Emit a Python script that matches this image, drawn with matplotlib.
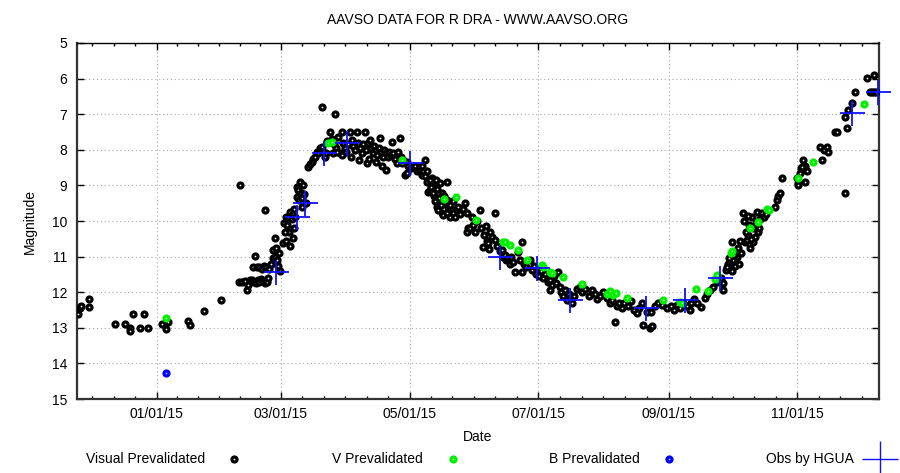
import numpy as np
import pandas as pd
import matplotlib
matplotlib.use("Agg")
import matplotlib.pyplot as plt
import matplotlib.dates as mdates
from matplotlib.lines import Line2D

plt.rcParams["font.family"] = ["Liberation Sans", "DejaVu Sans"]

# days counted from 2015-01-01, magnitudes
t0 = pd.Timestamp("2015-01-01")

vis_day = [-37.2, -36.5, -35.8, -32.3, -32.0, -20.0, -15.0, -12.8, -12.6, -11.0, -8.0, -6.0, -4.0,
           2.6, 4.3, 5.2, 15.0, 15.8, 22.6, 30.4,
           39.2, 40.5, 41.8, 42.8, 43.5, 44.3, 45.3, 46.3, 47.2, 48.0, 48.8, 49.6, 50.5, 51.3, 52.3, 53.0,
           45.8, 46.7, 47.8, 48.6, 49.8, 50.8, 52.0, 53.5, 54.5, 55.0, 55.3, 56.2, 56.0, 57.2, 57.8, 58.5,
           58.0, 56.8, 39.6, 51.4, 60.0, 61.5, 63.2, 64.8,
           60.5, 61.2, 62.0, 62.5, 63.3, 64.0, 64.5, 65.3, 65.8, 66.4, 66.4, 67.2, 67.6, 68.0, 68.5, 68.8,
           69.3, 70.0, 69.0, 65.0, 63.0, 61.0, 70.8, 72.0, 72.8, 73.6, 74.3, 75.1, 75.9, 76.6, 77.5, 78.3,
           79.0, 79.8, 80.5, 78.3, 84.6,
           81.0, 82.2, 83.0, 84.0, 85.0, 86.2, 87.0, 87.8, 88.5, 89.3, 90.0, 91.0, 91.7, 92.5, 93.2, 94.0,
           94.9, 95.5, 96.5, 97.3, 98.0, 98.8, 99.7, 99.5, 100.3, 101.2, 101.8, 102.5, 103.2, 104.0, 104.7,
           105.3, 106.0, 106.7, 107.4, 108.0, 108.8, 109.0, 109.6, 110.3, 111.0, 111.5, 112.2, 113.0, 113.9,
           114.7, 115.5, 115.8, 116.3, 117.0, 118.0, 118.7, 118.7, 119.5, 120.5, 121.8, 122.6, 123.5, 124.3,
           125.0, 83.8, 85.8, 88.0, 92.0, 96.0, 100.8, 104.3, 107.0,
           126.0, 127.3, 128.1, 128.9, 129.7, 130.5, 131.0, 131.8, 132.5, 132.9, 133.7, 134.5, 135.3, 135.5,
           136.0, 136.8, 137.6, 137.6, 138.5, 139.3, 140.0, 140.8, 141.6, 142.3, 143.1, 144.0, 145.2, 146.3,
           147.1, 147.1, 147.9, 148.7, 149.5, 150.3, 151.2, 152.0, 153.4, 154.0, 155.0, 155.5, 156.3, 157.0,
           157.4, 157.8, 158.2, 159.0, 160.6, 160.6, 161.5,
           125.8, 126.5, 127.5, 128.5, 129.5, 130.2, 131.3, 132.0, 133.0, 134.0, 134.8, 136.3, 138.0, 139.0,
           140.5,
           163.0, 163.7, 164.5, 165.3, 166.0, 166.8, 167.5, 168.3, 169.0, 170.0, 171.6, 172.3, 173.2, 173.2,
           174.5, 175.5, 177.2, 178.0,
           179.0, 180.0, 181.5, 182.5, 183.5, 184.5, 185.5, 186.7, 186.7, 187.5, 188.5, 189.5, 190.6, 191.2,
           192.0, 193.0, 194.0, 194.6, 195.5, 197.0, 198.0, 199.5, 201.0, 202.0, 203.5, 205.0, 206.5, 208.0,
           209.0, 210.5, 212.0, 213.5, 215.0, 216.0, 217.5, 218.5, 219.5, 221.0, 222.0, 223.5, 225.0, 226.5,
           227.8, 229.0, 230.2, 231.0, 232.5, 234.1, 235.0, 234.5, 236.5, 238.0,
           240.0, 242.0, 244.0, 245.5, 247.0, 248.5, 250.0, 251.5, 253.0, 253.8, 255.0, 256.5, 258.5, 260.1,
           261.0, 262.5, 264.0, 266.0, 268.0, 268.8, 269.0, 270.0, 271.0, 272.0, 272.9, 273.5, 274.5, 275.5,
           276.5, 277.5, 278.4, 279.0, 280.0, 280.8, 281.5, 282.4, 283.2, 284.0, 284.8, 285.5, 286.3, 287.1,
           288.0, 289.0, 293.4, 294.3, 295.0, 295.8, 296.6, 303.7, 304.5, 304.5, 305.3, 306.0, 306.9, 307.5,
           308.5, 306.4, 307.7, 314.8, 315.6, 316.5, 318.0, 318.8, 322.0, 323.0, 326.7, 327.5, 326.7, 328.3,
           329.8, 331.4, 337.0, 340.4, 338.5, 339.5, 340.5, 341.5,
           270.8, 271.5, 273.0, 274.0, 276.0, 277.0, 279.5, 281.0, 282.0, 283.0, 284.5, 286.0, 278.8, 280.5]

vis_mag = [12.6, 12.45, 12.4, 12.2, 12.42, 12.9, 12.9, 13.0, 13.1, 12.6, 13.0, 12.6, 13.0,
           12.9, 13.02, 12.85, 12.8, 12.92, 12.52, 12.22,
           11.7, 11.72, 11.68, 11.95, 11.8, 11.66, 11.65, 11.7, 11.75, 11.65, 11.72, 11.62, 11.68, 11.75, 11.7, 11.6,
           11.28, 10.97, 11.3, 11.28, 11.35, 11.25, 11.3, 11.35, 11.2, 11.05, 10.81, 10.49, 11.0, 11.1, 11.25, 11.4,
           10.9, 10.75, 9.0, 9.69, 10.63, 10.55, 10.7, 10.49,
           10.05, 9.9, 10.1, 9.88, 9.74, 9.95, 9.8, 9.65, 9.9, 9.32, 9.04, 9.13, 9.4, 8.9, 9.2, 9.36,
           9.0, 9.25, 9.6, 10.2, 10.3, 10.3, 9.5, 8.47, 8.4, 8.33, 8.25, 8.19, 8.05, 8.1, 7.96, 7.91,
           8.05, 8.2, 8.1, 6.79, 6.99,
           7.75, 7.49, 7.7, 7.85, 7.95, 7.63, 8.1, 7.49, 7.8, 7.95, 8.05, 7.85, 7.49, 7.72, 7.9, 8.0,
           7.49, 7.8, 7.96, 8.1, 7.85, 7.49, 8.38, 8.0, 7.8, 7.72, 7.95, 8.1, 7.9, 8.0, 8.15,
           7.95, 7.68, 8.05, 8.2, 8.0, 8.1, 8.57, 8.2, 8.05, 8.15, 7.77, 8.1, 8.25, 8.38,
           8.05, 7.68, 8.2, 8.38, 8.3, 8.7, 8.66, 8.33, 8.45, 8.5, 8.47, 8.45, 8.6, 8.5,
           8.57, 8.1, 8.05, 8.15, 8.2, 8.3, 8.25, 8.35, 8.45,
           8.7, 8.29, 8.9, 9.18, 9.13, 8.8, 9.0, 9.3, 8.85, 9.6, 9.69, 8.94, 9.78, 9.2,
           9.83, 9.5, 8.9, 9.78, 9.6, 9.9, 9.7, 9.78, 9.88, 9.65, 9.6, 9.8, 9.65, 9.5,
           9.78, 10.3, 10.21, 10.2, 9.9, 10.11, 10.3, 10.0, 9.69, 10.2, 10.72, 10.4, 10.15, 10.55,
           10.63, 10.8, 10.3, 10.45, 9.78, 10.53, 10.7,
           8.45, 8.6, 8.75, 8.6, 8.85, 9.05, 9.2, 9.45, 9.1, 9.35, 9.55, 9.3, 9.4, 9.55,
           9.45,
           10.85, 10.81, 11.0, 10.95, 11.1, 11.05, 11.2, 11.0, 11.15, 11.42, 10.86, 11.1, 10.58, 11.42,
           11.2, 11.3, 11.1, 11.38,
           11.25, 11.5, 11.55, 11.4, 11.6, 11.5, 11.7, 11.66, 11.94, 11.8, 11.55, 11.75, 11.42, 11.85,
           12.0, 12.1, 11.95, 12.22, 12.05, 12.31, 12.1, 11.9, 11.85, 12.0, 11.9, 12.1, 11.95, 12.05,
           12.2, 12.1, 12.0, 12.15, 12.3, 12.22, 12.83, 12.4, 12.3, 12.45, 12.3, 12.4, 12.25, 12.5,
           12.59, 12.45, 12.31, 12.92, 12.55, 13.01, 12.95, 12.55, 12.4, 12.3,
           12.35, 12.45, 12.4, 12.5, 12.35, 12.45, 12.3, 12.4, 12.5, 12.31, 12.2, 12.3, 12.41, 12.17,
           12.05, 11.95, 11.85, 11.7, 11.6, 11.75, 11.94, 11.38, 11.2, 11.3, 10.58, 11.1, 11.25, 11.0,
           11.2, 10.9, 9.78, 10.6, 10.53, 10.4, 10.77, 9.88, 10.6, 10.45, 9.74, 10.3, 9.95, 9.78,
           9.9, 9.8, 9.6, 9.41, 9.3, 9.22, 8.8, 8.8, 8.94, 8.99, 8.66, 8.5, 8.29, 8.45,
           8.6, 8.47, 8.9, 7.92, 8.29, 8.0, 7.92, 8.05, 7.49, 7.5, 9.2, 7.4, 7.09, 6.88,
           6.68, 6.38, 5.99, 5.9, 6.38, 6.38, 6.38, 6.38,
           11.3, 11.05, 11.4, 10.95, 10.75, 10.55, 10.3, 10.1, 10.5, 10.2, 10.05, 10.2, 10.0, 9.85]

v_day = [4.4, 81.4, 83.0, 116.6, 136.5, 141.9, 151.5, 164.2, 165.3, 167.7, 171.6, 175.6, 182.7,
         183.5, 186.7, 187.5, 193.0, 201.7, 213.5, 215.0, 216.7, 218.0, 223.1, 240.4, 248.4, 249.5,
         255.8, 261.5, 265.0, 265.8, 272.6, 272.9, 281.6, 285.5, 289.5, 290.5, 304.5, 311.6, 335.7]
v_mag = [12.73, 7.82, 7.77, 8.29, 9.39, 9.32, 9.97, 10.58, 10.6, 10.67, 10.81, 11.1, 11.24,
         11.28, 11.42, 11.45, 11.56, 11.78, 12.05, 11.98, 12.08, 12.02, 12.17, 12.22, 12.27, 12.3,
         11.92, 11.98, 11.63, 11.52, 10.89, 10.84, 10.2, 10.02, 9.67, 9.7, 8.8, 8.35, 6.71]

b_day = [4.4]
b_mag = [14.28]

hgua_day = [56.6, 66.4, 70.4, 79.4, 90.5, 120.2, 162.9, 180.6, 196.2, 232.2, 250.7, 267.3, 329.8, 342.5]
hgua_mag = [11.42, 9.88, 9.5, 8.1, 7.8, 8.38, 11.0, 11.33, 12.22, 12.45, 12.22, 11.61, 6.98, 6.38]


def to_date(days):
    return t0 + pd.to_timedelta(np.array(days), unit="D")


fig = plt.figure(figsize=(9, 4.73), dpi=100)
ax = fig.add_axes([77 / 900, 1 - 399 / 473, 802 / 900, 356 / 473])

vis_style = dict(marker="o", ms=3.6, mfc="white", mec="black", mew=2.3)
v_style = dict(marker="o", ms=3.6, mfc="#d0ffd0", mec="#00f000", mew=2.3)
b_style = dict(marker="o", ms=3.6, mfc="#b8b8ff", mec="#0000ff", mew=2.3)
cross_style = dict(marker="+", ms=18, mew=1.3, color="#1010ff")

ax.plot(to_date(vis_day), vis_mag, ls="none", zorder=3, **vis_style)
ax.plot(to_date(v_day), v_mag, ls="none", zorder=4, **v_style)
ax.plot(to_date(b_day), b_mag, ls="none", zorder=4, **b_style)
ax.plot(to_date(hgua_day), hgua_mag, ls="none", zorder=5, clip_on=False, **cross_style)

ax.set_ylim(15, 5)
ax.set_yticks(np.arange(5, 16, 1))
ax.set_xlim(to_date([-37.8])[0], to_date([342.8])[0])

ax.xaxis.set_major_locator(mdates.MonthLocator(bymonth=[1, 3, 5, 7, 9, 11]))
ax.xaxis.set_major_formatter(mdates.DateFormatter("%m/%d/%y"))
majors = mdates.date2num(pd.date_range("2014-11-01", "2016-01-01", freq="2MS"))
minors = np.concatenate([np.linspace(a, b, 7)[1:-1] for a, b in zip(majors[:-1], majors[1:])])
ax.xaxis.set_minor_locator(matplotlib.ticker.FixedLocator(minors))

ax.tick_params(which="both", direction="in", top=True, right=True, labelsize=10, colors="black")
ax.tick_params(which="major", length=5, width=1)
ax.tick_params(which="minor", length=2.5, width=1)
ax.tick_params(axis="x", pad=6)
ax.tick_params(axis="y", pad=7)

ax.grid(True, which="major", linestyle=(0, (1, 2.5)), color="#a8a8a8", linewidth=0.8)
ax.set_axisbelow(True)

for side in ["left", "bottom", "right"]:
    ax.spines[side].set_linewidth(1.6)
    ax.spines[side].set_color("#333333")
ax.spines["top"].set_linewidth(1.0)
ax.spines["top"].set_color("black")

fig.text(478 / 900, 1 - 20 / 473, "AAVSO DATA FOR R DRA - WWW.AAVSO.ORG", ha="center", va="center", fontsize=10)
fig.text(478 / 900, 1 - 437 / 473, "Date", ha="center", va="center", fontsize=10)
fig.text(30 / 900, 1 - 221 / 473, "Magnitude", ha="center", va="center", rotation=90, fontsize=10)

# legend row along the bottom
ly = 1 - 459 / 473
legend_items = [
    ("Visual Prevalidated", 205, 234, vis_style),
    ("V Prevalidated", 423, 453, v_style),
    ("B Prevalidated", 640, 669, b_style),
    ("Obs by HGUA", 854, 880, dict(marker="+", ms=26, mew=1.0, color="#1010ff")),
]
for label, tx, mx, style in legend_items:
    fig.text(tx / 900, ly, label, ha="right", va="center", fontsize=10)
    fig.add_artist(Line2D([mx / 900], [ly], transform=fig.transFigure, ls="none", **style))

fig.savefig("out.png", dpi=100)
